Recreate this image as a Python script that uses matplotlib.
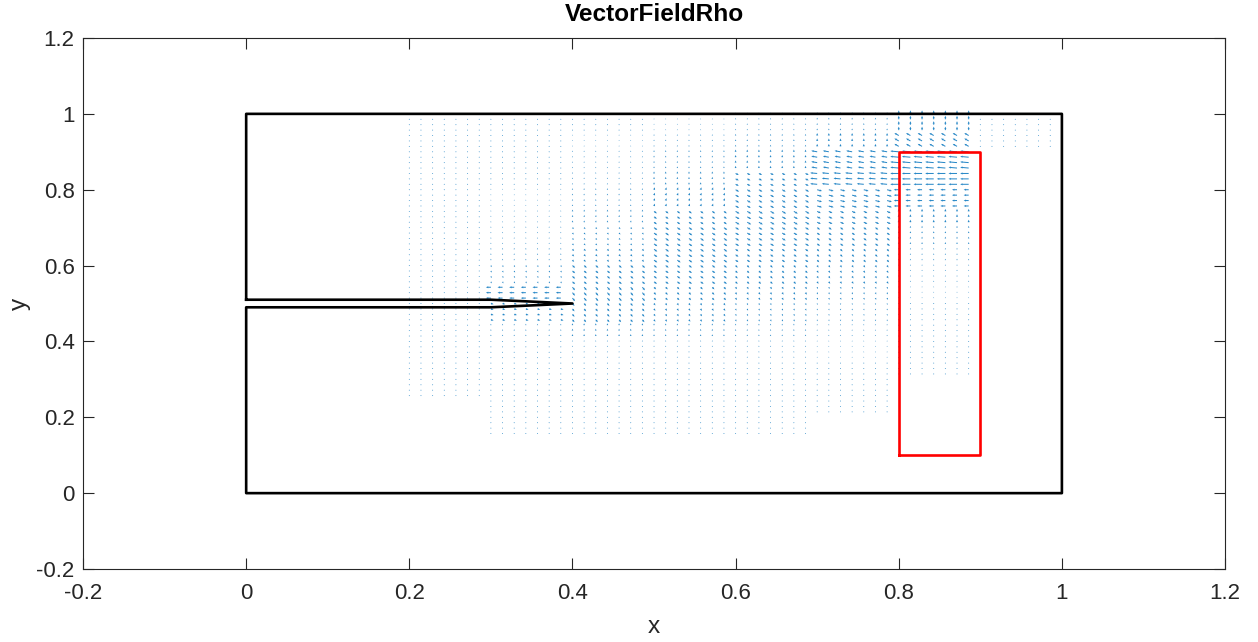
import numpy as np
import matplotlib.pyplot as plt

plt.rcParams['font.family'] = ['Liberation Sans', 'DejaVu Sans']

# outer box with the slit that ends in a tip at (0.4, 0.5)
outline_x = [0, 0, 1, 1, 0, 0, 0.3, 0.4, 0.3, 0]
outline_y = [0.51, 1, 1, 0, 0, 0.49, 0.49, 0.5, 0.51, 0.51]
# red sub-region
red_x = [0.8, 0.9, 0.9, 0.8, 0.8]
red_y = [0.1, 0.1, 0.9, 0.9, 0.1]

# quiver sample points per axis (step 1/70)
grid_n = 71

# arrow length in pixels, read per block:
# rows top -> bottom in steps of 0.05 in y, columns left -> right in steps of 0.1 in x
arrow_len = [
    [0, 0, 0.2, 0.5, 0.7, 1.0, 1.3, 1.6, 3.5, 0.3],
    [0, 0, 0.3, 0.7, 1.0, 1.3, 1.6, 2.5, 5.0, 0.2],
    [0, 0, 0.4, 0.8, 1.2, 1.6, 2.2, 6.0, 8.5, 0],
    [0, 0, 0.4, 0.9, 1.3, 2.0, 3.5, 7.0, 8.5, 0],
    [0, 0, 0.4, 1.0, 1.5, 2.5, 4.0, 5.0, 5.0, 0],
    [0, 0, 0.5, 1.1, 1.8, 3.5, 4.5, 4.0, 2.5, 0],
    [0, 0, 0.5, 1.2, 2.0, 4.0, 4.0, 3.5, 1.8, 0],
    [0, 0, 0.5, 1.4, 2.4, 4.0, 3.5, 3.0, 1.4, 0],
    [0, 0, 0.6, 1.8, 3.5, 3.6, 3.0, 2.4, 1.2, 0],
    [0, 0, 0.8, 5.0, 4.0, 3.0, 2.4, 1.9, 1.0, 0],
    [0, 0, 0.6, 2.8, 3.2, 2.4, 1.9, 1.5, 0.7, 0],
    [0, 0, 0.4, 1.4, 1.9, 1.7, 1.5, 1.2, 0.5, 0],
    [0, 0, 0.3, 0.9, 1.2, 1.2, 1.2, 1.0, 0.3, 0],
    [0, 0, 0.2, 0.6, 0.8, 0.8, 0.8, 0.6, 0.2, 0],
    [0, 0, 0.1, 0.3, 0.5, 0.5, 0.5, 0.3, 0, 0],
    [0, 0, 0, 0.2, 0.3, 0.3, 0.3, 0.2, 0, 0],
    [0, 0, 0, 0.1, 0.2, 0.2, 0.2, 0, 0, 0],
    [0, 0, 0, 0, 0, 0, 0, 0, 0, 0],
    [0, 0, 0, 0, 0, 0, 0, 0, 0, 0],
    [0, 0, 0, 0, 0, 0, 0, 0, 0, 0],
]
# arrow direction on screen, degrees
arrow_ang = [
    [90, 90, 90, 90, 90, 90, 90, 90, 90, 90],
    [90, 90, 90, 90, 90, 90, 90, 90, 150, 90],
    [90, 90, 90, 90, 90, 90, 90, 170, 175, 90],
    [90, 90, 90, 90, 90, 90, -25, 175, 180, 90],
    [90, 90, 90, 90, 90, 70, -30, -15, 180, 90],
    [90, 90, 90, 90, 80, -35, -30, -25, 90, 90],
    [90, 90, 90, 90, -45, -35, -30, -35, 90, 90],
    [90, 90, 90, 90, -45, -35, -35, -45, 90, 90],
    [90, 90, 90, -60, -40, -35, -45, -55, 90, 90],
    [90, 90, 90, 180, -50, -45, -55, -65, 90, 90],
    [90, 90, 90, -15, -50, -55, -65, -75, 90, 90],
] + [[90] * 10 for _ in range(9)]

tick_vals = [-0.2, 0, 0.2, 0.4, 0.6, 0.8, 1, 1.2]
tick_text = ['-0.2', '0', '0.2', '0.4', '0.6', '0.8', '1', '1.2']

fig = plt.figure(figsize=(12.58, 6.42), dpi=100)
ax = fig.add_axes([0.066, 0.1137, 0.9078, 0.8271])

gx = np.linspace(0, 1, grid_n)
X, Y = np.meshgrid(gx, gx)
col = np.clip(np.floor(X * 10 + 1e-9).astype(int), 0, 9)
row = np.clip(np.floor((1 - Y) / 0.05 + 1e-9).astype(int), 0, 19)
L = np.array(arrow_len, dtype=float)[row, col]
A = np.deg2rad(np.array(arrow_ang, dtype=float)[row, col])
keep = L > 0
ax.quiver(X[keep], Y[keep], (L * np.cos(A))[keep], (L * np.sin(A))[keep],
          angles='uv', scale_units='dots', scale=1, units='dots', width=1.0,
          headwidth=2.2, headlength=2.5, headaxislength=2.2,
          color='#0072BD', alpha=0.85, zorder=1)

ax.plot(outline_x, outline_y, color='black', lw=1.9, zorder=2)
ax.plot(red_x, red_y, color='red', lw=1.9, zorder=3)

ax.set_xlim(-0.2, 1.2)
ax.set_ylim(-0.2, 1.2)
ax.set_xticks(tick_vals)
ax.set_xticklabels(tick_text)
ax.set_yticks(tick_vals)
ax.set_yticklabels(tick_text)
ax.tick_params(direction='in', length=8.2, width=0.8, colors='#262626',
               labelsize=16, top=True, right=True)
ax.tick_params(axis='x', pad=10)
ax.tick_params(axis='y', pad=6)
for s in ax.spines.values():
    s.set_color('#262626')
    s.set_linewidth(0.8)

ax.set_xlabel('x', fontsize=17.6, color='#262626', labelpad=9)
ax.set_ylabel('y', fontsize=17.6, color='#262626', labelpad=4)
ax.set_title('VectorFieldRho', fontsize=17.6, fontweight='bold', pad=12.5)

fig.savefig('out.png', dpi=100)
